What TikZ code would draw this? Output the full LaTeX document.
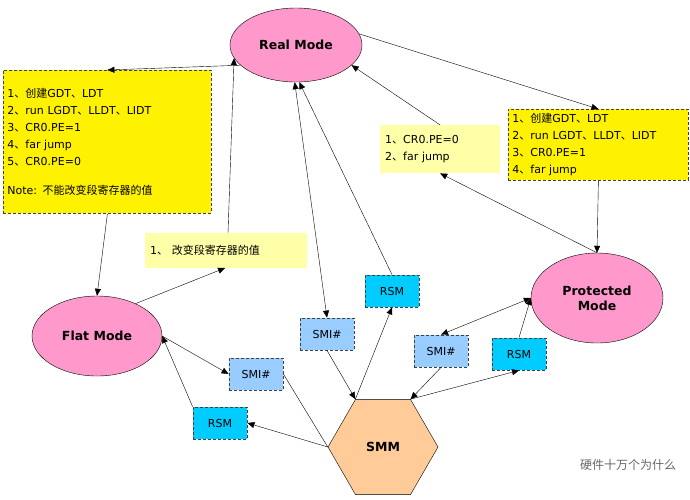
\documentclass[tikz,border=0pt]{standalone}
\usepackage{fontspec}
\setmainfont{DejaVu Sans}
\newfontfamily\cjk{Noto Sans CJK SC}
\usetikzlibrary{shapes.geometric,arrows.meta}
\definecolor{pinkmode}{HTML}{FF99CC}
\definecolor{smmfill}{HTML}{FFCC99}
\definecolor{rsmfill}{HTML}{00CCFF}
\definecolor{smifill}{HTML}{99CCFF}
\definecolor{lightyel}{HTML}{FFFFA8}
\begin{document}
\begin{tikzpicture}[x=1pt,y=-1pt,font=\fontsize{11}{17}\selectfont,
	% node styles
	mode/.style={draw, fill=pinkmode, ellipse, inner sep=0pt, font=\fontsize{12.5}{15}\selectfont\bfseries, align=center},
	tag/.style={draw, dashed, dash pattern=on 3pt off 2pt, thick, draw=black!75, minimum width=54pt, minimum height=32pt, inner sep=0pt, text depth=0pt},
	rsm/.style={tag, fill=rsmfill},
	smi/.style={tag, fill=smifill},
	steps/.style={draw, dashed, dash pattern=on 3pt off 2pt, thick, draw=black!75, fill=yellow, align=left, anchor=north west, inner sep=4pt, text width=#1},
	note/.style={fill=lightyel, align=left, anchor=north west, inner sep=5pt, text width=#1},
	arr/.style={-{Triangle[length=7pt,width=6pt]}},
	darr/.style={{Triangle[length=7pt,width=6pt]}-{Triangle[length=7pt,width=6pt]}}]
	\useasboundingbox (0,0) rectangle (690,499);
	% modes
	\node[mode, minimum width=132pt, minimum height=74pt] (real) at (296,45) {Real Mode};
	\node[mode, minimum width=130pt, minimum height=80pt] (flat) at (97,336) {Flat Mode};
	\node[mode, minimum width=132pt, minimum height=90pt] (prot) at (597,298) {Protected\\Mode};
	\node[draw, fill=smmfill, regular polygon, regular polygon sides=6, minimum size=110pt, inner sep=0pt, font=\fontsize{12.5}{15}\selectfont\bfseries] (smm) at (383,447) {SMM};
	% text boxes
	\node[steps=200pt, minimum height=143pt] (flatsteps) at (3,70) {1{\cjk 、创建}GDT{\cjk 、}LDT\\2{\cjk 、}run LGDT{\cjk 、}LLDT{\cjk 、}LIDT\\3{\cjk 、}CR0.PE=1\\4{\cjk 、}far jump\\5{\cjk 、}CR0.PE=0\\[12pt]Note: {\cjk 不能改变段寄存器的值}};
	\node[steps=172pt, minimum height=71pt, inner ysep=2pt] (protsteps) at (508,109) {1{\cjk 、创建}GDT{\cjk 、}LDT\\2{\cjk 、}run LGDT{\cjk 、}LLDT{\cjk 、}LIDT\\3{\cjk 、}CR0.PE=1\\4{\cjk 、}far jump};
	\node[note=110pt, minimum height=48pt] (backreal) at (380,125) {1{\cjk 、}CR0.PE=0\\2{\cjk 、}far jump};
	\node[note=152pt, minimum height=35pt] (segnote) at (145,233) {1{\cjk 、 改变段寄存器的值}};
	% SMI# / RSM tags
	\node[rsm] (rsmreal) at (392,291) {RSM};
	\node[smi] (smireal) at (327,334) {SMI\#};
	\node[smi] (smiflat) at (256,374) {SMI\#};
	\node[rsm] (rsmflat) at (220,423) {RSM};
	\node[smi] (smiprot) at (441,351) {SMI\#};
	\node[rsm] (rsmprot) at (519,354) {RSM};
	\coordinate (segtop) at (228,233);
	\coordinate (segbot) at (225,268);
	% connectors
	\draw[arr] (real.200) -- (flatsteps.north);
	\draw[arr] (flatsteps.south) -- (flat.north);
	\draw[arr] (flat.40) -- (segbot);
	\draw[arr] (segtop) -- (real.192);
	\draw[arr] (real.10) -- (protsteps.north);
	\draw[arr] (protsteps.south) -- (prot.north);
	\draw[arr] (prot.north) -- (backreal.south);
	\draw[arr] (backreal.north) -- (real.-20);
	\draw[darr] (real.-92) -- (smireal.north);
	\draw[arr] (smireal.south) -- (smm.corner 2);
	\draw[arr] (smm.corner 2) -- (rsmreal.south);
	\draw[arr] (rsmreal.north) -- (real.-85);
	\draw[arr] (flat.east) -- (smiflat.west);
	\draw (smiflat.east) -- (smm.corner 3);
	\draw[arr] (smm.corner 3) -- (rsmflat.east);
	\draw[arr] (rsmflat.north west) -- (flat.east);
	\draw[darr] (prot.west) -- (smiprot.north);
	\draw[arr] (smiprot.south) -- (smm.corner 1);
	\draw[arr] (smm.corner 1) -- (rsmprot.south);
	\draw[arr] (rsmprot.north) -- (prot.west);
	% watermark
	\node[text=black!60, font=\fontsize{12}{14}\selectfont\cjk] (mark) at (628,465) {硬件十万个为什么};
\end{tikzpicture}
\end{document}
